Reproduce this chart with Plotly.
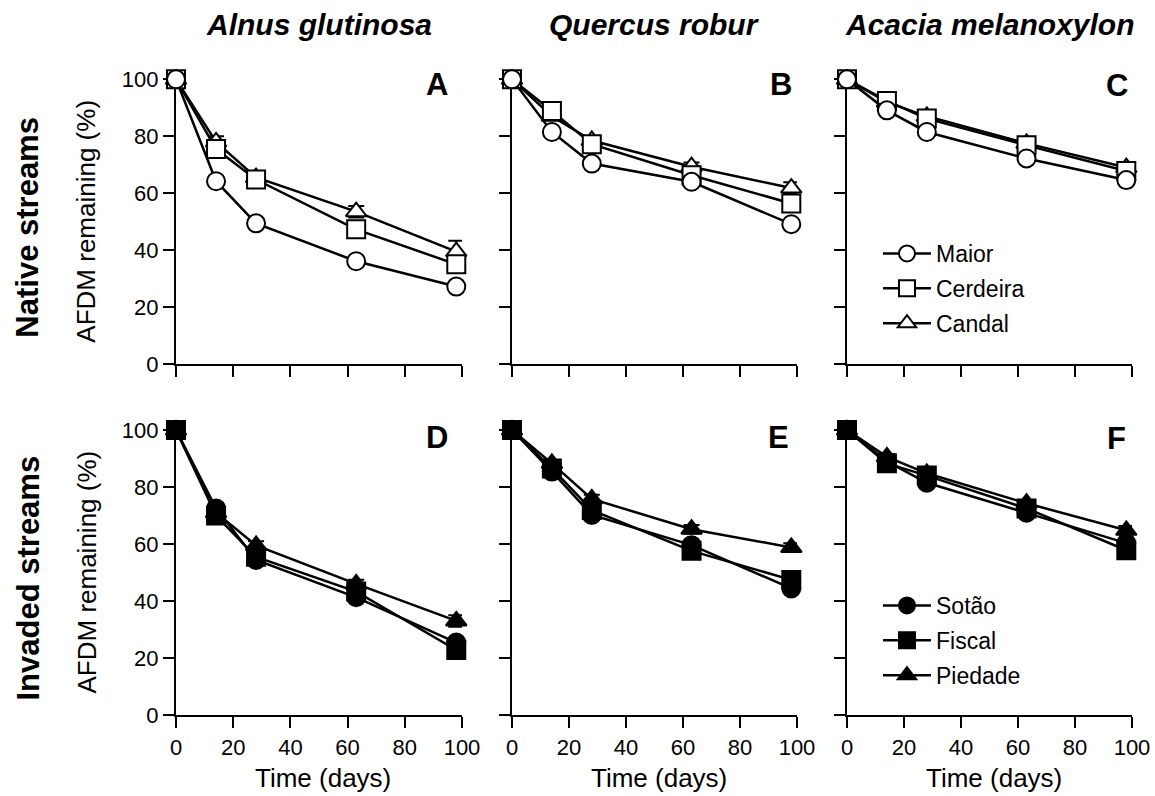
import plotly.graph_objects as go

W, H = 1155, 796
FONT = "Arial, Liberation Sans, Helvetica, sans-serif"

# ---------------- data ----------------
times = [0, 14, 28, 63, 98]

species = ["Alnus glutinosa", "Quercus robur", "Acacia melanoxylon"]
row_labels = ["Native streams", "Invaded streams"]
panel_letters = ["A", "B", "C", "D", "E", "F"]
native_streams = ["Maior", "Cerdeira", "Candal"]
invaded_streams = ["Sotão", "Fiscal", "Piedade"]
x_ticks = [0, 20, 40, 60, 80, 100]
y_ticks = [0, 20, 40, 60, 80, 100]

# Native streams (open symbols)
A_maior = [100, 64.2, 49.4, 36.1, 27.2]
A_cerdeira = [100, 75.5, 64.8, 47.3, 35.0]
A_candal = [100, 78.0, 65.5, 53.5, 39.5]
B_maior = [100, 81.5, 70.4, 64.0, 49.1]
B_cerdeira = [100, 88.9, 77.2, 66.3, 56.4]
B_candal = [100, 87.0, 78.5, 69.3, 61.8]
C_maior = [100, 89.1, 81.5, 72.2, 64.6]
C_cerdeira = [100, 92.4, 86.2, 76.8, 67.8]
C_candal = [100, 92.0, 87.0, 77.5, 69.0]

# Invaded streams (filled symbols)
D_sotao = [100, 72.5, 54.4, 41.3, 25.4]
D_fiscal = [100, 70.0, 55.5, 43.3, 22.8]
D_piedade = [100, 71.0, 59.5, 46.0, 33.0]
E_sotao = [100, 85.4, 70.2, 59.6, 44.4]
E_fiscal = [100, 86.5, 71.9, 57.6, 47.4]
E_piedade = [100, 88.3, 75.8, 65.2, 58.8]
F_sotao = [100, 89.0, 81.5, 71.0, 60.3]
F_fiscal = [100, 88.3, 84.0, 72.5, 57.8]
F_piedade = [100, 90.6, 84.8, 74.3, 64.8]

# standard errors (mostly hidden behind the markers)
A_maior_se = [0, 1.5, 1.5, 1.5, 1.5]
A_cerdeira_se = [0, 1.5, 1.5, 2.0, 2.0]
A_candal_se = [0, 2.0, 1.5, 2.0, 3.8]
B_maior_se = [0, 1.0, 1.0, 1.5, 1.5]
B_cerdeira_se = [0, 1.0, 1.5, 1.5, 2.0]
B_candal_se = [0, 1.0, 1.5, 1.5, 2.0]
C_maior_se = [0, 1.0, 1.0, 1.0, 1.5]
C_cerdeira_se = [0, 1.0, 1.0, 1.0, 1.0]
C_candal_se = [0, 1.0, 1.0, 1.5, 1.5]
D_sotao_se = [0, 1.5, 1.5, 1.5, 1.5]
D_fiscal_se = [0, 1.5, 1.5, 1.5, 1.5]
D_piedade_se = [0, 1.5, 1.5, 1.5, 2.0]
E_sotao_se = [0, 1.0, 1.5, 1.5, 1.5]
E_fiscal_se = [0, 1.0, 1.5, 1.5, 1.5]
E_piedade_se = [0, 1.0, 1.5, 1.5, 1.5]
F_sotao_se = [0, 1.0, 1.0, 1.0, 1.5]
F_fiscal_se = [0, 1.0, 1.0, 1.0, 1.5]
F_piedade_se = [0, 1.0, 1.0, 1.0, 1.5]

panels = [
    [(A_maior, A_maior_se), (A_cerdeira, A_cerdeira_se), (A_candal, A_candal_se)],
    [(B_maior, B_maior_se), (B_cerdeira, B_cerdeira_se), (B_candal, B_candal_se)],
    [(C_maior, C_maior_se), (C_cerdeira, C_cerdeira_se), (C_candal, C_candal_se)],
    [(D_sotao, D_sotao_se), (D_fiscal, D_fiscal_se), (D_piedade, D_piedade_se)],
    [(E_sotao, E_sotao_se), (E_fiscal, E_fiscal_se), (E_piedade, E_piedade_se)],
    [(F_sotao, F_sotao_se), (F_fiscal, F_fiscal_se), (F_piedade, F_piedade_se)],
]

# ---------------- layout geometry (pixels) ----------------
col_px = [(176, 462), (512, 797), (847, 1132)]
row_px = [(79.3, 364), (430, 715)]


def px(x):
    return x / W


def py(y):
    return 1 - y / H


symbols = ["circle", "square", "triangle-up"]
fig = go.Figure()

for p in range(6):
    r, c = divmod(p, 3)
    idx = p + 1
    xa = "x" if idx == 1 else f"x{idx}"
    ya = "y" if idx == 1 else f"y{idx}"
    names = native_streams if r == 0 else invaded_streams
    fill = "white" if r == 0 else "black"
    # draw triangle, square, then circle on top
    for k in [2, 1, 0]:
        vals, se = panels[p][k]
        show_leg = (c == 2)
        fig.add_trace(go.Scatter(
            x=times, y=vals, xaxis=xa, yaxis=ya,
            mode="lines+markers", name=names[k],
            legendgroup=names[k],
            line=dict(color="black", width=2.5),
            marker=dict(symbol=symbols[k], size=18, color=fill,
                        line=dict(color="black", width=2)),
            error_y=dict(type="data", array=se, visible=True,
                         color="black", thickness=2, width=8),
            cliponaxis=False,
            showlegend=show_leg,
            legend="legend" if r == 0 else "legend2",
            legendrank=k + 1,
        ))

axis_common = dict(
    range=[0, 100], showgrid=False, zeroline=False,
    showline=True, linewidth=2.2, linecolor="black",
    ticks="outside", ticklen=11, tickwidth=2.2, tickcolor="black",
    tickfont=dict(family=FONT, size=22, color="black"),
    layer="below traces", fixedrange=True, automargin=False,
)

layout_axes = {}
for p in range(6):
    r, c = divmod(p, 3)
    idx = p + 1
    xk = "xaxis" if idx == 1 else f"xaxis{idx}"
    yk = "yaxis" if idx == 1 else f"yaxis{idx}"
    xa_anchor = "y" if idx == 1 else f"y{idx}"
    ya_anchor = "x" if idx == 1 else f"x{idx}"
    layout_axes[xk] = dict(
        axis_common, domain=[px(col_px[c][0]), px(col_px[c][1])],
        anchor=xa_anchor, tickvals=x_ticks, showticklabels=(r == 1),
    )
    layout_axes[yk] = dict(
        axis_common,
        domain=[py(row_px[r][1]), py(row_px[r][0])],
        anchor=ya_anchor, tickvals=y_ticks, showticklabels=(c == 0),
    )

fig.update_layout(**layout_axes)

annotations = []
# column titles
for c, sp in enumerate(species):
    annotations.append(dict(
        text=f"<b><i>{sp}</i></b>", xref="paper", yref="paper",
        x=px((col_px[c][0] + col_px[c][1]) / 2), y=py(25),
        xanchor="center", yanchor="middle", showarrow=False,
        font=dict(family=FONT, size=30, color="black")))
# row labels + y titles
for r, lab in enumerate(row_labels):
    cy = (row_px[r][0] + row_px[r][1]) / 2
    annotations.append(dict(
        text=f"<b>{lab}</b>", xref="paper", yref="paper",
        x=px(28), y=py(cy + 6), xanchor="center", yanchor="middle",
        textangle=-90, showarrow=False,
        font=dict(family=FONT, size=31, color="black")))
    annotations.append(dict(
        text="AFDM remaining (%)", xref="paper", yref="paper",
        x=px(86), y=py(cy), xanchor="center", yanchor="middle",
        textangle=-90, showarrow=False,
        font=dict(family=FONT, size=26, color="black")))
# x titles
for c in range(3):
    annotations.append(dict(
        text="Time (days)", xref="paper", yref="paper",
        x=px((col_px[c][0] + col_px[c][1]) / 2 + 4), y=py(778),
        xanchor="center", yanchor="middle", showarrow=False,
        font=dict(family=FONT, size=26, color="black")))
# panel letters
letter_px = [(437, 85), (781, 85), (1117, 86), (437, 437), (778, 437), (1116, 438)]
for lt, (lx, ly) in zip(panel_letters, letter_px):
    annotations.append(dict(
        text=f"<b>{lt}</b>", xref="paper", yref="paper",
        x=px(lx), y=py(ly), xanchor="center", yanchor="middle",
        showarrow=False, font=dict(family=FONT, size=31, color="black")))

leg_common = dict(
    xanchor="left", yanchor="top", bgcolor="rgba(0,0,0,0)",
    borderwidth=0, traceorder="grouped", tracegroupgap=2,
    font=dict(family=FONT, size=23, color="black"),
    itemsizing="trace", itemwidth=48,
)

fig.update_layout(
    width=W, height=H, autosize=False,
    margin=dict(l=0, r=0, t=0, b=0, pad=0, autoexpand=False),
    paper_bgcolor="white", plot_bgcolor="white",
    font=dict(family=FONT, color="black"),
    annotations=annotations,
    legend=dict(leg_common, x=px(878), y=py(232)),
    legend2=dict(leg_common, x=px(878), y=py(584)),
)

fig.write_html(
    "out.html",
    config={"displayModeBar": False, "staticPlot": True},
    post_script="document.body.style.margin='0';document.body.style.padding='0';"
                "document.documentElement.style.overflow='hidden';",
)
